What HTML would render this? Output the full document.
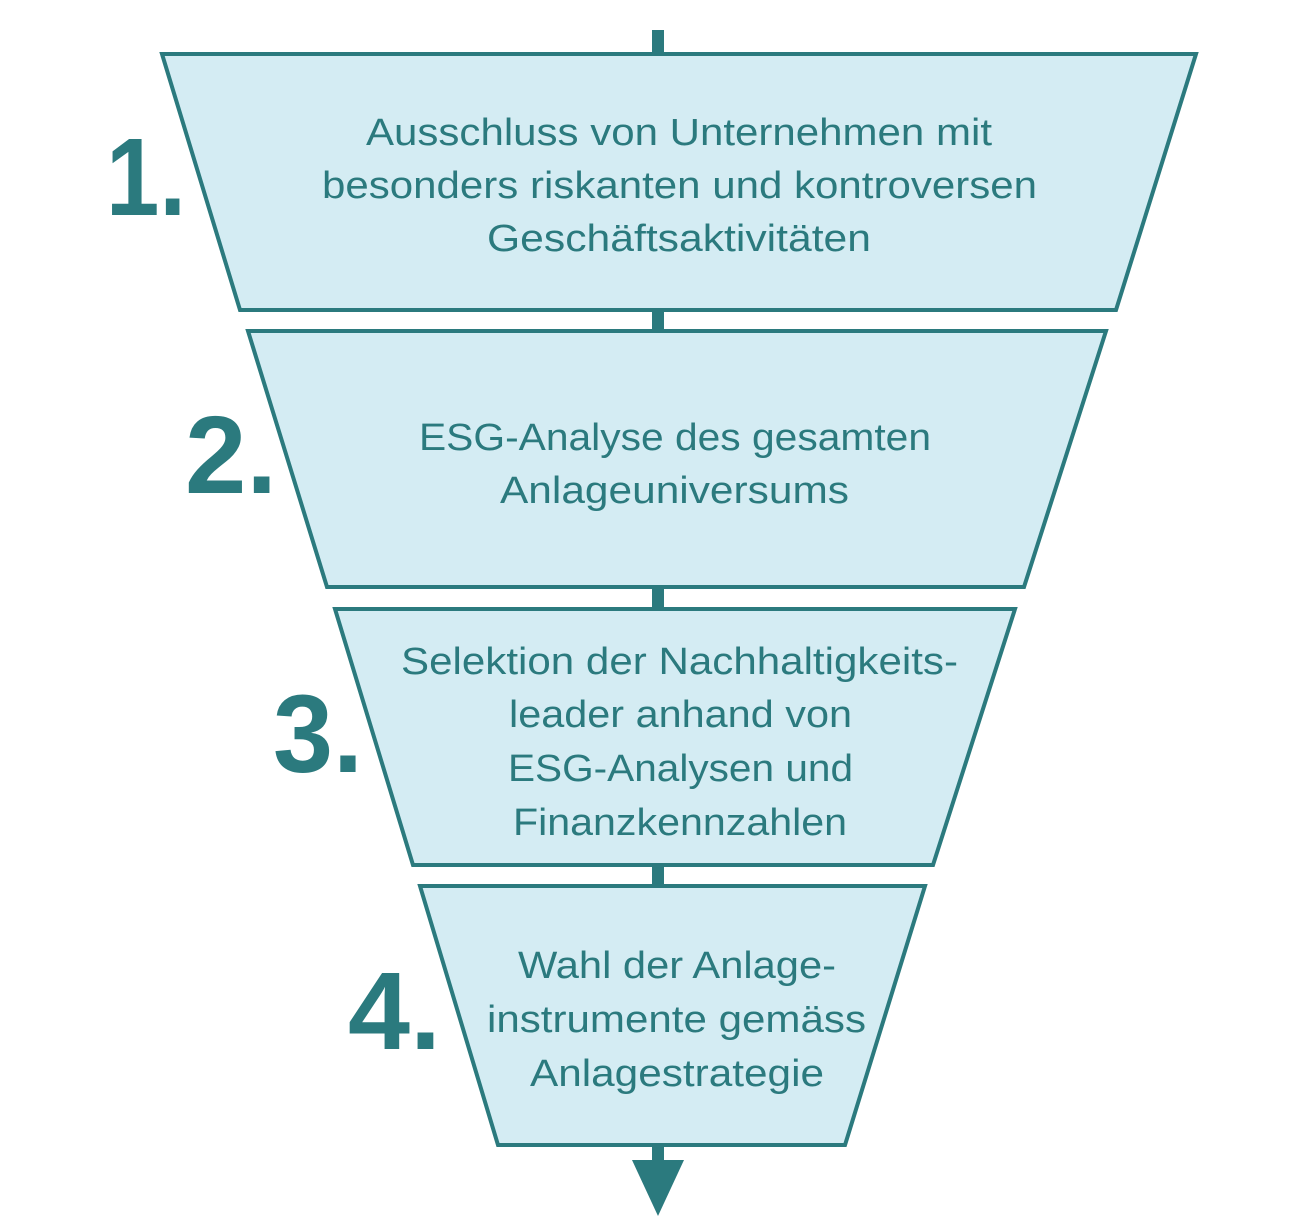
<!DOCTYPE html>
<html><head><meta charset="utf-8"><style>
html,body{margin:0;padding:0;background:#fff;}
svg{display:block;}
text{font-family:"Liberation Sans",sans-serif;fill:#2b7a7e;}
.t{font-size:38px;}
.n{font-size:110px;font-weight:bold;}
</style></head><body>
<svg width="1300" height="1218" viewBox="0 0 1300 1218">
<rect x="652" y="30" width="12" height="1140" fill="#2b7a7e"/>
<polygon points="632,1160 684,1160 658,1216" fill="#2b7a7e"/>
<g fill="#d4ecf3" stroke="#2b7a7e" stroke-width="4" stroke-linejoin="miter">
<polygon points="162,54 1196,54 1116,310 240,310"/>
<polygon points="248,331 1106,331 1024,587 327,587"/>
<polygon points="335,609 1015,609 933,865 413,865"/>
<polygon points="420,886 925,886 845,1145 498,1145"/>
</g>
<g class="t">
<text x="366" y="145" textLength="626" lengthAdjust="spacingAndGlyphs">Ausschluss von Unternehmen mit</text>
<text x="322" y="198" textLength="715" lengthAdjust="spacingAndGlyphs">besonders riskanten und kontroversen</text>
<text x="487" y="251" textLength="384" lengthAdjust="spacingAndGlyphs">Geschäftsaktivitäten</text>
<text x="419" y="450" textLength="512" lengthAdjust="spacingAndGlyphs">ESG-Analyse des gesamten</text>
<text x="500" y="503" textLength="349" lengthAdjust="spacingAndGlyphs">Anlageuniversums</text>
<text x="401" y="674" textLength="557" lengthAdjust="spacingAndGlyphs">Selektion der Nachhaltigkeits-</text>
<text x="509" y="727" textLength="343" lengthAdjust="spacingAndGlyphs">leader anhand von</text>
<text x="508" y="781" textLength="345" lengthAdjust="spacingAndGlyphs">ESG-Analysen und</text>
<text x="513" y="835" textLength="334" lengthAdjust="spacingAndGlyphs">Finanzkennzahlen</text>
<text x="518" y="978" textLength="318" lengthAdjust="spacingAndGlyphs">Wahl der Anlage-</text>
<text x="487" y="1032" textLength="379" lengthAdjust="spacingAndGlyphs">instrumente gemäss</text>
<text x="530" y="1086" textLength="294" lengthAdjust="spacingAndGlyphs">Anlagestrategie</text>
</g>
<g class="n">
<text x="106" y="215" textLength="80" lengthAdjust="spacingAndGlyphs">1.</text>
<text x="185" y="493" textLength="92" lengthAdjust="spacingAndGlyphs">2.</text>
<text x="273" y="772" textLength="90" lengthAdjust="spacingAndGlyphs">3.</text>
<text x="348" y="1049" textLength="93" lengthAdjust="spacingAndGlyphs">4.</text>
</g>
</svg>
</body></html>
